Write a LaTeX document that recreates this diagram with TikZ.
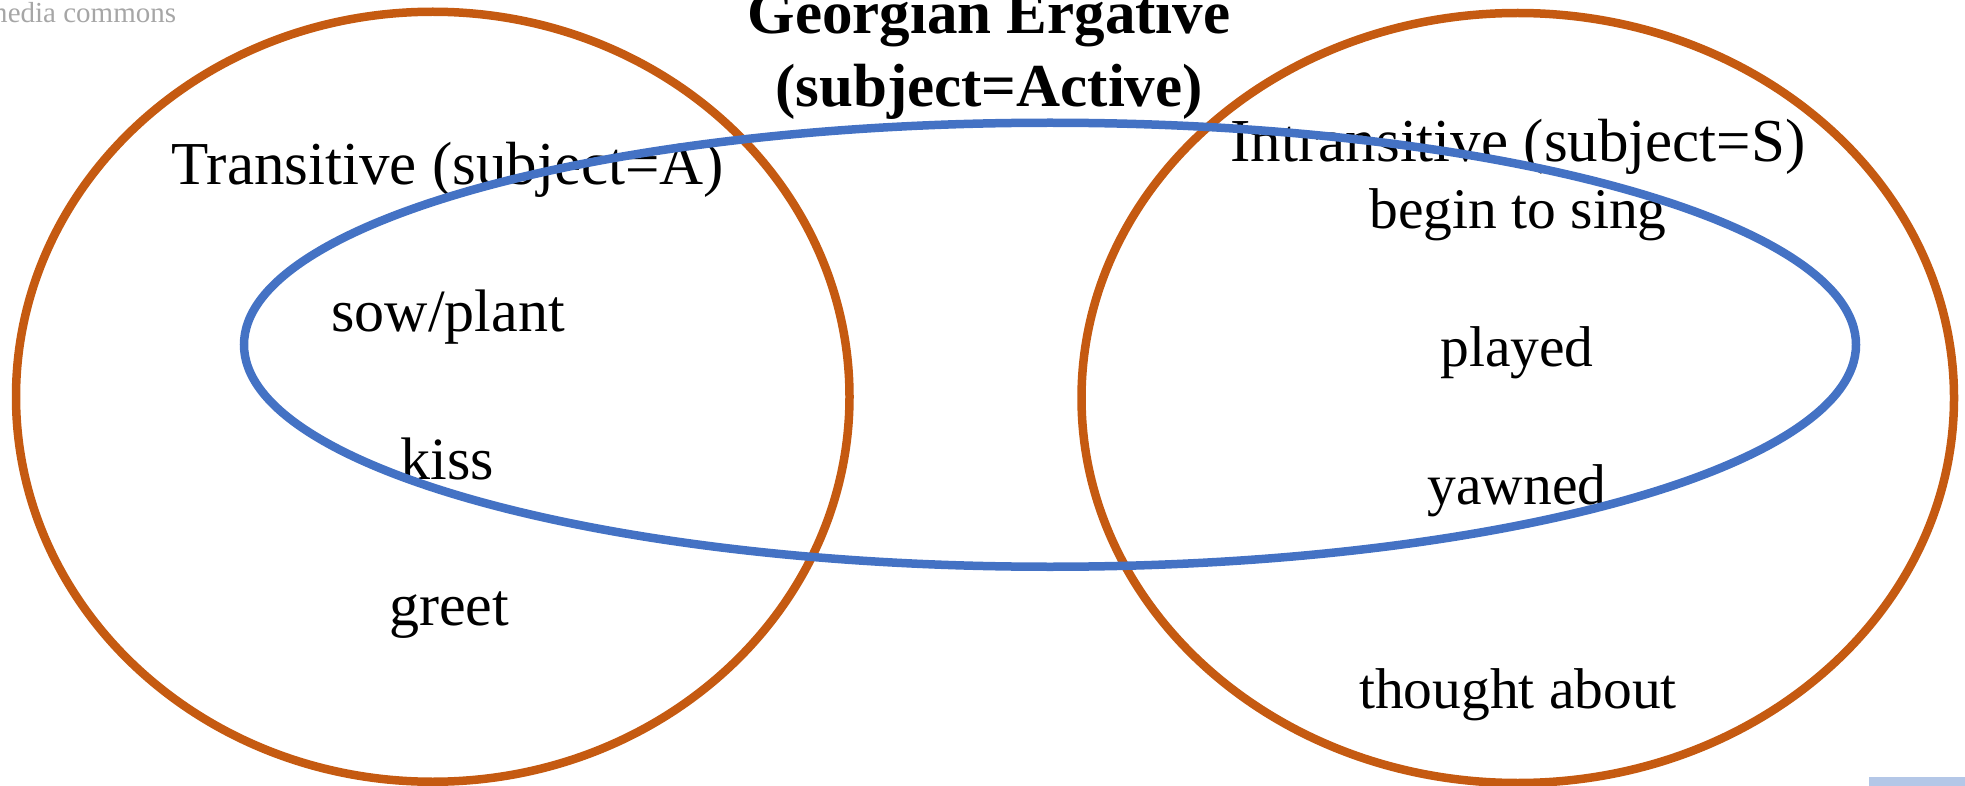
\documentclass[tikz,border=0pt]{standalone}
\usepackage{fontspec}
\setmainfont{Liberation Serif}
\definecolor{setorange}{HTML}{C55A11}
\definecolor{setblue}{HTML}{4472C4}
\definecolor{tabblue}{HTML}{B4C7E7}
\definecolor{markgray}{HTML}{A6A6A6}
\tikzset{
  setring/.style={line width=8.5pt},
  word/.style={anchor=base, inner sep=0pt, font=\fontsize{60}{72}\selectfont},
  rword/.style={anchor=base, inner sep=0pt, font=\fontsize{57.5}{69}\selectfont},
  header/.style={anchor=base, inner sep=0pt, font=\fontsize{61}{73}\selectfont},
  titleline/.style={anchor=base, inner sep=0pt, font=\fontsize{61}{73}\selectfont\bfseries},
}
\begin{document}
\begin{tikzpicture}[x=1pt,y=-1pt]
  \useasboundingbox (0,0) rectangle (1965,786);
  \clip (0,0) rectangle (1965,786);

  % watermark
  \node[anchor=base west, inner sep=0pt, text=markgray,
        font=\fontsize{29}{34}\selectfont] (mark) at (-15,22.7) {media commons};

  % title
  \node[titleline] (title1) at (989,34) {Georgian Ergative};
  \node[titleline] (title2) at (989,107) {(subject=Active)};

  % set headers
  \node[header] (trans) at (448,185) {Transitive (subject=A)};
  \node[header] (intrans) at (1518,162) {Intransitive (subject=S)};

  % transitive verbs
  \node[word] (sow) at (448,331) {sow/plant};
  \node[word] (kiss) at (447,479) {kiss};
  \node[word] (greet) at (449,625) {greet};

  % intransitive verbs
  \node[rword] (sing) at (1518,229) {begin to sing};
  \node[rword] (played) at (1517,366) {played};
  \node[rword] (yawned) at (1517,504) {yawned};
  \node[rword] (thought) at (1518,708) {thought about};

  % the three sets
  \draw[setring, setorange] (432.75,396.75) ellipse [x radius=416.75pt, y radius=385pt];
  \draw[setring, setorange] (1517.75,398) ellipse [x radius=436.25pt, y radius=385pt];
  \draw[setring, setblue] (1050,344.75) ellipse [x radius=806pt, y radius=222pt];

  % corner tab
  \fill[tabblue] (1869,777) rectangle (1965,786);
\end{tikzpicture}
\end{document}
